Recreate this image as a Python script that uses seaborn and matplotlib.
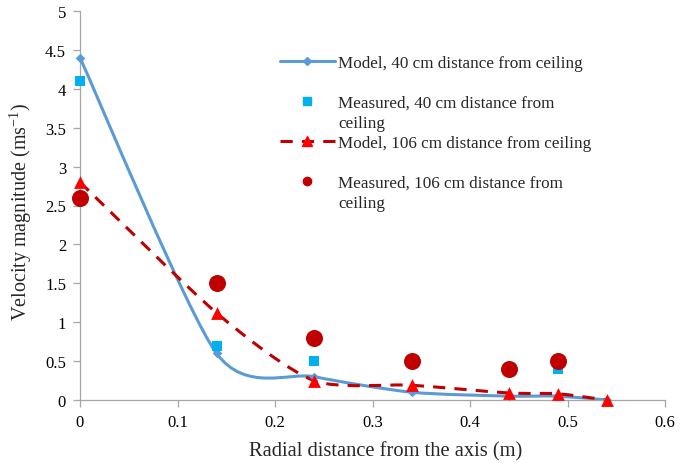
import numpy as np
import pandas as pd
import matplotlib
matplotlib.use("Agg")
import matplotlib.pyplot as plt
from matplotlib.path import Path
from matplotlib.patches import PathPatch
from matplotlib.lines import Line2D
import seaborn as sns

# ---- data ----
model40_x = [0.0, 0.14, 0.24, 0.34, 0.44, 0.49, 0.54]
model40_y = [4.4, 0.6, 0.3, 0.1, 0.05, 0.05, 0.0]
meas40_x = [0.0, 0.14, 0.24, 0.49]
meas40_y = [4.1, 0.7, 0.5, 0.4]
model106_x = [0.0, 0.14, 0.24, 0.34, 0.44, 0.49, 0.54]
model106_y = [2.8, 1.12, 0.25, 0.19, 0.09, 0.08, 0.0]
meas106_x = [0.0, 0.14, 0.24, 0.34, 0.44, 0.49]
meas106_y = [2.6, 1.5, 0.8, 0.5, 0.4, 0.5]

legend_lines = [
    ("Model, 40 cm distance from ceiling", " "),
    ("Measured, 40 cm distance from", "ceiling"),
    ("Model, 106 cm distance from ceiling", " "),
    ("Measured, 106 cm distance from", "ceiling"),
]
x_ticks = [0, 0.1, 0.2, 0.3, 0.4, 0.5, 0.6]
x_ticklabels = ["0", "0.1", "0.2", "0.3", "0.4", "0.5", "0.6"]
y_ticks = [0, 0.5, 1, 1.5, 2, 2.5, 3, 3.5, 4, 4.5, 5]
y_ticklabels = ["0", "0.5", "1", "1.5", "2", "2.5", "3", "3.5", "4", "4.5", "5"]
x_label = "Radial distance from the axis (m)"
y_label = "Velocity magnitude (ms$^{-1}$)"

C_BLUE = "#5B9BD5"
C_CYAN = "#00B0F0"
C_DRED = "#C00000"
C_RED = "#FF0000"

sns.set_theme(style="white")
plt.rcParams["font.family"] = ["Liberation Serif", "DejaVu Serif"]
plt.rcParams["mathtext.fontset"] = "custom"
plt.rcParams["mathtext.rm"] = "Liberation Serif"
plt.rcParams["mathtext.it"] = "Liberation Serif:italic"

fig = plt.figure(figsize=(6.81, 4.64), dpi=100)
ax = fig.add_axes([80/681, 1-401/464, 585/681, 389/464])


def smooth_path(xs, ys, k=1/8):
    """Excel-style smoothed line: cardinal Bezier through the data points."""
    P = np.column_stack([xs, ys]).astype(float)
    n = len(P)
    verts = [P[0]]
    codes = [Path.MOVETO]
    for i in range(n - 1):
        p0 = P[i - 1] if i > 0 else P[i]
        p1 = P[i]
        p2 = P[i + 1]
        p3 = P[i + 2] if i + 2 < n else P[i + 1]
        c1 = p1 + (p2 - p0) * k
        c2 = p2 - (p3 - p1) * k
        verts += [c1, c2, p2]
        codes += [Path.CURVE4] * 3
    return Path(verts, codes)


ax.add_patch(PathPatch(smooth_path(model40_x, model40_y), facecolor="none",
                       edgecolor=C_BLUE, lw=2.2, zorder=2, clip_on=False))
ax.add_patch(PathPatch(smooth_path(model106_x, model106_y), facecolor="none",
                       edgecolor=C_DRED, lw=2.2, ls=(0, (4, 3)), zorder=2,
                       clip_on=False))

sns.scatterplot(x=model40_x, y=model40_y, marker="D", s=24, color=C_BLUE,
                edgecolor=C_BLUE, linewidth=0, ax=ax, zorder=3, clip_on=False)
sns.scatterplot(x=meas40_x, y=meas40_y, marker="s", s=55, color=C_CYAN,
                edgecolor=C_CYAN, linewidth=0, ax=ax, zorder=3, clip_on=False)
sns.scatterplot(x=model106_x, y=model106_y, marker="^", s=85, color=C_RED,
                edgecolor=C_RED, linewidth=0, ax=ax, zorder=4, clip_on=False)
sns.scatterplot(x=meas106_x, y=meas106_y, marker="o", s=150, color=C_DRED,
                edgecolor=C_DRED, linewidth=0, ax=ax, zorder=5, clip_on=False)

ax.set_xlim(0, 0.6)
ax.set_ylim(0, 5)
ax.set_xticks(x_ticks)
ax.set_xticklabels(x_ticklabels)
ax.set_yticks(y_ticks)
ax.set_yticklabels(y_ticklabels)
ax.tick_params(axis="both", labelsize=12, labelcolor="#000000", length=5,
               direction="out", width=0.9, color="#A6A6A6",
               bottom=True, left=True, pad=5)
for s in ["top", "right"]:
    ax.spines[s].set_visible(False)
for s in ["left", "bottom"]:
    ax.spines[s].set_color("#A6A6A6")
    ax.spines[s].set_linewidth(0.9)
ax.set_xlabel(x_label, fontsize=14.8)
ax.set_ylabel(y_label, fontsize=14.5)
ax.xaxis.set_label_coords((386 - 80) / 585, -0.106)
ax.yaxis.set_label_coords(-0.079, (401 - 212) / 389)

blank = Line2D([], [], lw=0, marker=None)
entry_handles = [
    Line2D([], [], color=C_BLUE, lw=2.2, marker="D", markersize=4.5),
    Line2D([], [], color=C_CYAN, lw=0, marker="s", markersize=6),
    Line2D([], [], color=C_DRED, lw=2.2, ls=(0, (4, 3)), marker="^",
           markersize=7, markerfacecolor=C_RED, markeredgecolor=C_RED),
    Line2D([], [], color=C_DRED, lw=0, marker="o", markersize=6),
]
handles, labels = [], []
for h, (l1, l2) in zip(entry_handles, legend_lines):
    handles += [h, blank]
    labels += [l1, l2]

fig.legend(handles, labels, loc="upper left",
           bbox_to_anchor=(280/681, 1-56/464),
           frameon=False, fontsize=12.3, handlelength=3.2, labelspacing=0.23,
           handletextpad=0.2, borderpad=0, borderaxespad=0)

fig.savefig("out.png", dpi=100)
